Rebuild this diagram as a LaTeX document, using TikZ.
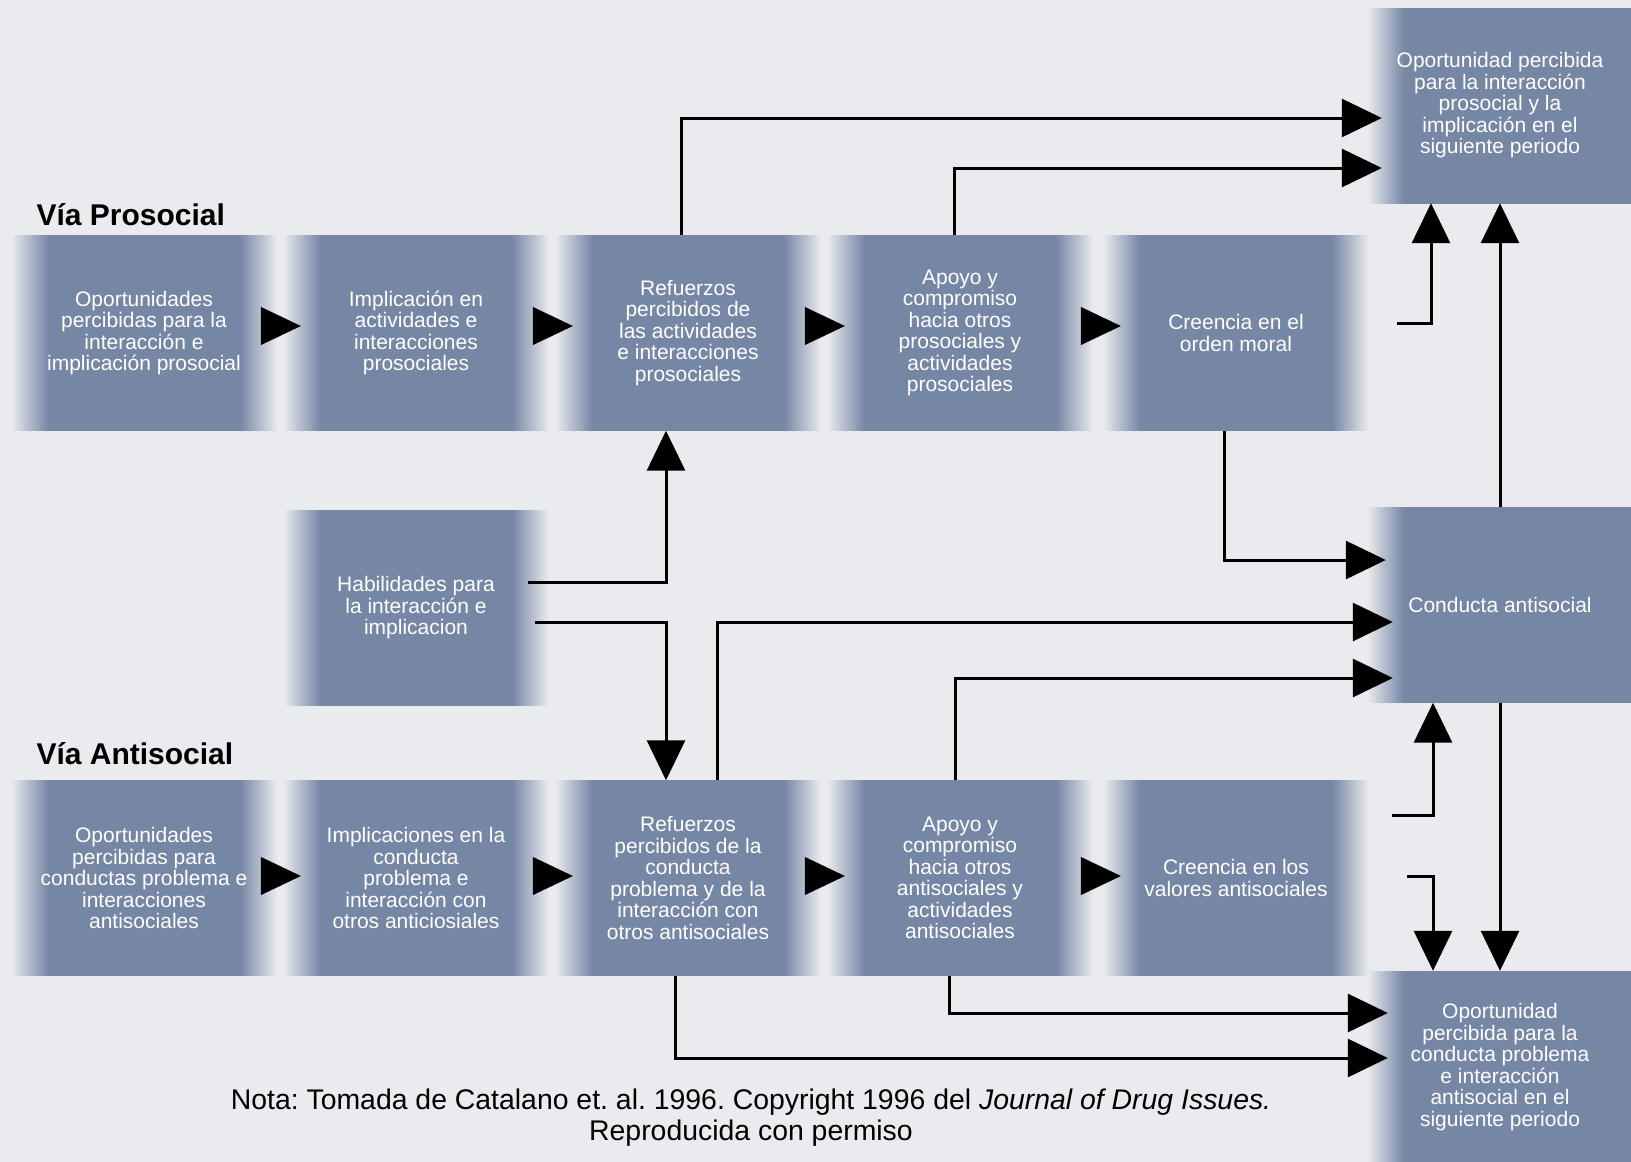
\documentclass[tikz,border=0pt]{standalone}
\usepackage{fontspec}
\setmainfont{Liberation Sans}
\usetikzlibrary{arrows.meta}
\definecolor{boxblue}{RGB}{118,135,165}
\definecolor{paper}{RGB}{234,235,239}
\pgfdeclarehorizontalshading{boxfade}{100bp}{color(0bp)=(paper); color(25bp)=(paper); color(32bp)=(boxblue); color(68bp)=(boxblue); color(75bp)=(paper); color(100bp)=(paper)}
\pgfdeclarehorizontalshading{sidefade}{100bp}{color(0bp)=(paper); color(25bp)=(paper); color(32bp)=(boxblue); color(100bp)=(boxblue)}
\tikzset{
  boxbase/.style={draw=none, inner sep=0pt, align=center, text=white,
    font=\fontsize{21}{21.5}\selectfont},
  stagebox/.style={boxbase, shade, shading=boxfade, minimum width=266pt, minimum height=195pt},
  sidebox/.style={boxbase, shade, shading=sidefade, minimum width=266pt, minimum height=195pt},
  bigtip/.style={-{Triangle[length=40pt,width=38pt]}},
  conn/.style={line width=3pt, bigtip},
  rowarrow/.style={line width=0.5pt, bigtip, shorten >=-18pt},
  title/.style={anchor=west, font=\fontsize{30}{32}\selectfont\bfseries},
}
\begin{document}
\begin{tikzpicture}[x=1pt,y=1pt]
\useasboundingbox (0,-1162) rectangle (1631,0);
\fill[paper] (0,-1162) rectangle (1631,0);

\node[title] (t1) at (33,-215) {Vía Prosocial};
\node[title] (t2) at (33,-754) {Vía Antisocial};

% top row
\node[stagebox] (p1) at (144,-333) {Oportunidades\\percibidas para la\\interacción e\\implicación prosocial};
\node[stagebox] (p2) at (416,-333) {Implicación en\\actividades e\\interacciones\\prosociales};
\node[stagebox] (p3) at (688,-333) {Refuerzos\\percibidos de\\las actividades\\e interacciones\\prosociales};
\node[stagebox] (p4) at (960,-333) {Apoyo y\\compromiso\\hacia otros\\prosociales y\\actividades\\prosociales};
\node[stagebox] (p5) at (1236,-333) {Creencia en el\\orden moral};

% middle
\node[stagebox] (h) at (416,-608) {Habilidades para\\la interacción e\\implicacion};

% bottom row
\node[stagebox] (a1) at (144,-878) {Oportunidades\\percibidas para\\conductas problema e\\interacciones\\antisociales};
\node[stagebox] (a2) at (416,-878) {Implicaciones en la\\conducta\\problema e\\interacción con\\otros anticiosiales};
\node[stagebox] (a3) at (688,-878) {Refuerzos\\percibidos de la\\conducta\\problema y de la\\interacción con\\otros antisociales};
\node[stagebox] (a4) at (960,-878) {Apoyo y\\compromiso\\hacia otros\\antisociales y\\actividades\\antisociales};
\node[stagebox] (a5) at (1236,-878) {Creencia en los\\valores antisociales};

% right column
\node[sidebox] (tr) at (1500,-105.5) {Oportunidad percibida\\para la interacción\\prosocial y la\\implicación en el\\siguiente periodo};
\node[sidebox] (ca) at (1500,-605) {Conducta antisocial};
\node[sidebox, minimum height=192pt] (br) at (1500,-1067) {Oportunidad\\percibida para la\\conducta problema\\e interacción\\antisocial en el\\siguiente periodo};

% row arrows
\draw[rowarrow] (p1.east |- 0,-326) -- (p2.west |- 0,-326);
\draw[rowarrow] (p2.east |- 0,-326) -- (p3.west |- 0,-326);
\draw[rowarrow] (p3.east |- 0,-326) -- (p4.west |- 0,-326);
\draw[rowarrow] (p4.east |- 0,-326) -- (p5.west |- 0,-326);
\draw[rowarrow] (a1.east |- 0,-876) -- (a2.west |- 0,-876);
\draw[rowarrow] (a2.east |- 0,-876) -- (a3.west |- 0,-876);
\draw[rowarrow] (a3.east |- 0,-876) -- (a4.west |- 0,-876);
\draw[rowarrow] (a4.east |- 0,-876) -- (a5.west |- 0,-876);

% connectors
\draw[conn, shorten >=-15pt] ([xshift=-7pt]p3.north) |- (tr.west |- 0,-118);
\draw[conn, shorten >=-15pt] ([xshift=-6pt]p4.north) |- (tr.west |- 0,-168);
\draw[conn, shorten <=28pt] (p5.east |- 0,-323) -| ([xshift=-69pt]tr.south);
\draw[conn] (ca.north) -- (tr.south);
\draw[conn, shorten >=-19pt] ([xshift=-12pt]p5.south) |- (ca.west |- 0,-560);
\draw[conn, shorten <=-21pt] (h.east |- 0,-582) -| ([xshift=-22pt]p3.south);
\draw[conn, shorten <=-14pt] (h.east |- 0,-622) -| ([xshift=-22pt]a3.north);
\draw[conn, shorten >=-26pt] ([xshift=29pt]a3.north) |- (ca.west |- 0,-622);
\draw[conn, shorten >=-26pt] ([xshift=-5pt]a4.north) |- (ca.west |- 0,-678);
\draw[conn, shorten >=-21pt] ([xshift=-13pt]a3.south) |- (br.west |- 0,-1058);
\draw[conn, shorten >=-21pt] ([xshift=-11pt]a4.south) |- (br.west |- 0,-1013);
\draw[conn, shorten <=23pt] (a5.east |- 0,-815) -| ([xshift=-67pt]ca.south);
\draw[conn, shorten <=38pt] (a5.east |- 0,-876) -| ([xshift=-67pt]br.north);
\draw[conn] (ca.south) -- (br.north);

% caption
\node[align=center, font=\fontsize{28.4}{31}\selectfont\frenchspacing] (cap) at (751,-1118)
  {Nota: Tomada de Catalano et. al. 1996. Copyright 1996 del \textit{Journal of Drug Issues.}\\Reproducida con permiso};
\end{tikzpicture}
\end{document}
